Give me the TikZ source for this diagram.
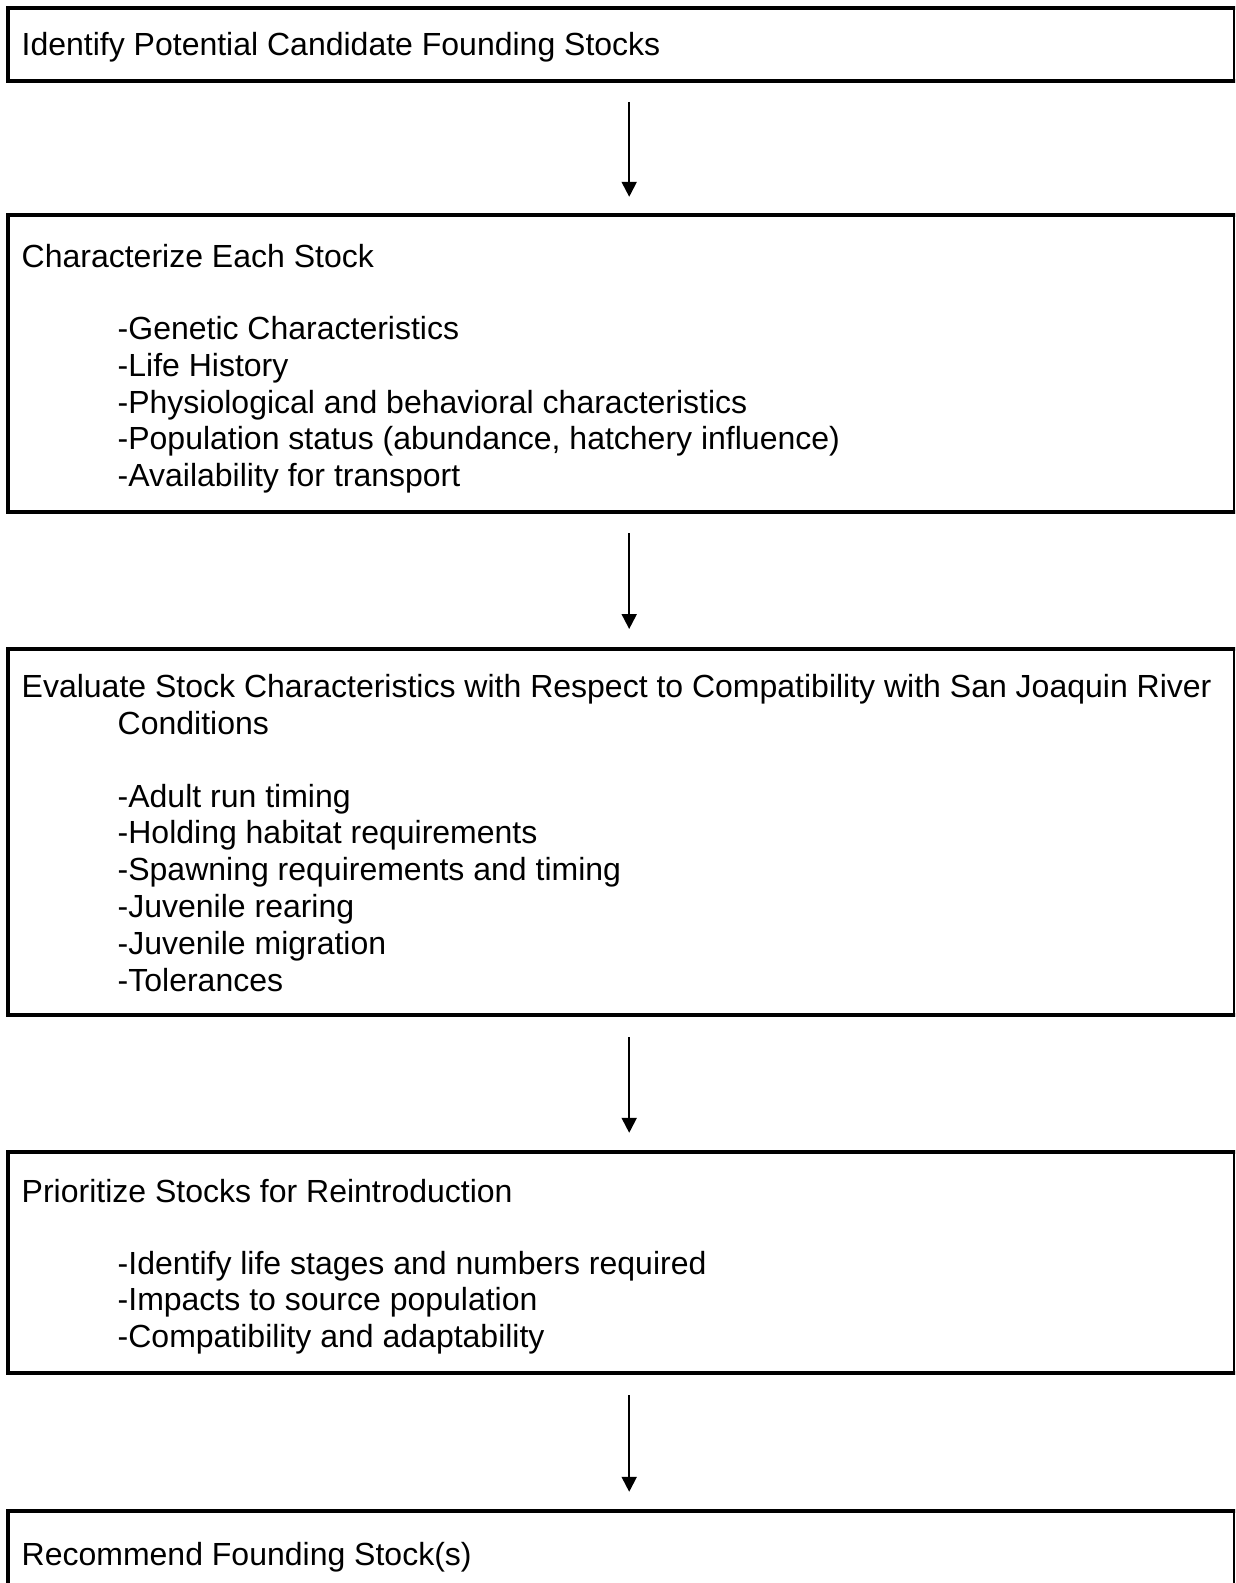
\documentclass[tikz,border=0pt]{standalone}
\usepackage{fontspec}
\setmainfont{Liberation Sans}
\usetikzlibrary{arrows.meta}
\begin{document}
\begin{tikzpicture}[x=1pt,y=-1pt,
  boxshape/.style={rectangle,draw=none,inner sep=0pt,minimum width=1226pt},
  txt/.style={anchor=base west,inner sep=0pt,font=\fontsize{32}{36.8}\selectfont},
  arr/.style={line width=2pt,-{Triangle[width=15pt,length=15pt]}},
  thickedge/.style={line width=4pt,line cap=rect},
  thinedge/.style={line width=2pt}]
\useasboundingbox (0,0) rectangle (1235,1583);
\clip (0,0) rectangle (1235,1583);
\node[boxshape,minimum height=72.7pt] (b1) at (620.7,44.35) {};
\node[boxshape,minimum height=296.7pt] (b2) at (620.7,363.35) {};
\node[boxshape,minimum height=366.3pt] (b3) at (620.7,831.85) {};
\node[boxshape,minimum height=221pt] (b4) at (620.7,1262.5) {};
\node[boxshape,minimum height=187pt] (b5) at (620.7,1604.5) {};
\foreach \b in {b1,b2,b3,b4,b5}{
  \draw[thickedge] (\b.north east) -- (\b.north west) -- (\b.south west) -- (\b.south east);
  \draw[thinedge] (\b.north east) -- (\b.south east);
}
% headers
\node[txt] (t1) at (21.5,55) {Identify Potential Candidate Founding Stocks};
\node[txt] (t2) at (21.5,267) {Characterize Each Stock};
\node[txt] (t3) at (21.5,697) {Evaluate Stock Characteristics with Respect to Compatibility with San Joaquin River};
\node[txt] (t3c) at (117.5,734.5) {Conditions};
\node[txt] (t4) at (21.5,1202.5) {Prioritize Stocks for Reintroduction};
\node[txt] (t5) at (21.5,1565) {Recommend Founding Stock(s)};
% items
\foreach \s [count=\i] in {{-Genetic Characteristics},{-Life History},{-Physiological and behavioral characteristics},{-Population status (abundance, hatchery influence)},{-Availability for transport}}
  \node[txt] (t2-\i) at (117.5,{339.5+(\i-1)*36.8}) {\s};
\foreach \s [count=\i] in {{-Adult run timing},{-Holding habitat requirements},{-Spawning requirements and timing},{-Juvenile rearing},{-Juvenile migration},{-Tolerances}}
  \node[txt] (t3-\i) at (117.5,{807+(\i-1)*36.8}) {\s};
\foreach \s [count=\i] in {{-Identify life stages and numbers required},{-Impacts to source population},{-Compatibility and adaptability}}
  \node[txt] (t4-\i) at (117.5,{1274+(\i-1)*36.8}) {\s};
% arrows
\draw[arr] ([xshift=8.5pt,yshift=-21pt]b1.south) -- ([xshift=8.5pt,yshift=18pt]b2.north);
\draw[arr] ([xshift=8.5pt,yshift=-21.5pt]b2.south) -- ([xshift=8.5pt,yshift=19.5pt]b3.north);
\draw[arr] ([xshift=8.5pt,yshift=-22pt]b3.south) -- ([xshift=8.5pt,yshift=19pt]b4.north);
\draw[arr] ([xshift=8.5pt,yshift=-22pt]b4.south) -- ([xshift=8.5pt,yshift=19pt]b5.north);
\end{tikzpicture}
\end{document}
